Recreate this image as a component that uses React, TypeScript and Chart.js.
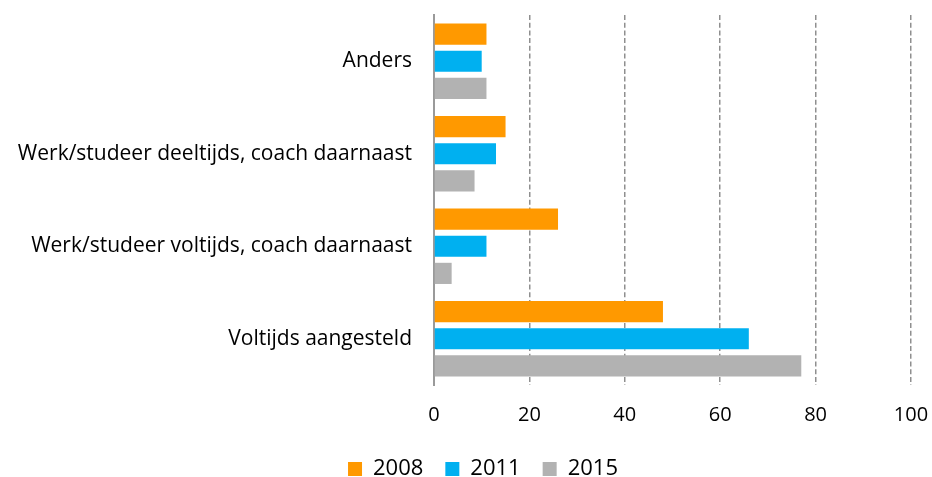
import React, { useEffect, useRef } from "react";
import { Chart, registerables } from "chart.js";

Chart.register(...registerables);

const categories = [
  "Anders",
  "Werk/studeer deeltijds, coach daarnaast",
  "Werk/studeer voltijds, coach daarnaast",
  "Voltijds aangesteld",
];
const seriesNames = ["2008", "2011", "2015"];
const values2008 = [11, 15, 26, 48];
const values2011 = [10, 13, 11, 66];
const values2015 = [11, 8.5, 3.7, 77];
const xTicks = [0, 20, 40, 60, 80, 100];
const colors = ["#FF9900", "#00B0F0", "#B2B2B2"];

const FONT = "'Open Sans', 'Noto Sans', sans-serif";
const LEGEND_SHIFT = 27.5;

const legendShift = {
  id: "legendShift",
  afterLayout(chart: any) {
    if (chart.legend) {
      chart.legend.left += LEGEND_SHIFT;
      chart.legend.right += LEGEND_SHIFT;
    }
  },
};

export default function App() {
  const ref = useRef<HTMLCanvasElement | null>(null);

  useEffect(() => {
    document.body.style.margin = "0";
    const canvas = ref.current;
    if (!canvas) return;
    const chart = new Chart(canvas, {
      type: "bar",
      data: {
        labels: categories,
        datasets: [values2008, values2011, values2015].map((d, i) => ({
          label: seriesNames[i],
          data: d,
          backgroundColor: colors[i],
          borderWidth: 0,
          categoryPercentage: 0.88,
          barPercentage: 0.78,
        })),
      },
      plugins: [legendShift],
      options: {
        indexAxis: "y",
        animation: false,
        responsive: false,
        maintainAspectRatio: false,
        layout: { padding: { top: 15, right: 21, left: 0, bottom: -13 } },
        plugins: {
          tooltip: { enabled: false },
          legend: {
            position: "bottom",
            labels: {
              boxWidth: 14,
              boxHeight: 14,
              padding: 22,
              color: "#000",
              font: { family: FONT, size: 22 },
            },
          },
        },
        scales: {
          x: {
            min: 0,
            max: 100,
            afterBuildTicks: (scale: any) => {
              scale.ticks = xTicks.map((v) => ({ value: v }));
            },
            afterFit: (scale: any) => {
              scale.height = 51;
              scale.paddingLeft = 0;
              scale.paddingRight = 0;
            },
            grid: {
              color: "#8f8f8f",
              lineWidth: 1.5,
              drawTicks: false,
            },
            border: { display: false, dash: [5, 2.7] },
            ticks: {
              padding: 18,
              color: "#000",
              font: { family: FONT, size: 20 },
            },
          },
          y: {
            afterFit: (scale: any) => {
              scale.width = 434;
              scale.paddingTop = 0;
              scale.paddingBottom = 0;
            },
            grid: { display: false, drawTicks: false },
            border: { display: true, color: "#9a9a9a", width: 2 },
            ticks: {
              padding: 22,
              color: "#000",
              font: { family: FONT, size: 21 },
            },
          },
        },
      },
    } as any);
    return () => chart.destroy();
  }, []);

  return (
    <div style={{ width: 932, height: 477 }}>
      <canvas ref={ref} width={932} height={477} style={{ display: "block" }} />
    </div>
  );
}
